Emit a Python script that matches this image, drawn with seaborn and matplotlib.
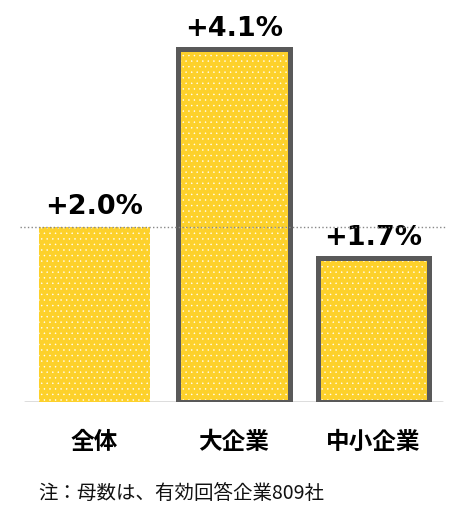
""" Bar chart: growth rate by company size.
"""
import numpy as np
import matplotlib.pyplot as plt
import seaborn as sns

# Data
categories = ['全体', '大企業', '中小企業']
values = [2.02, 4.08, 1.66]
value_labels = ['+2.0%', '+4.1%', '+1.7%']
note = '注：母数は、有効回答企業809社'

bar_color = '#FDD12B'
edge_color = '#595959'

sns.set_style('white')
plt.rcParams['font.family'] = ['Noto Sans CJK JP', 'DejaVu Sans']
plt.rcParams['hatch.linewidth'] = 0.3

fig = plt.figure(figsize=(4.77, 5.16), dpi=100)
ax = fig.add_axes([20 / 477, 1 - 402 / 516, 426 / 477, 402 / 516])

pos = np.arange(len(categories))
sns.barplot(x=pos, y=values, color=bar_color, saturation=1, width=0.8,
            hatch='...', edgecolor='white', linewidth=0, ax=ax, zorder=2)

# outline on the two breakdown bars
ax.bar(pos[1:], values[1:], width=0.8, fill=False, edgecolor=edge_color,
       linewidth=3.6, zorder=3)

# reference line at overall level and baseline
ax.axhline(values[0], color='#888888', linestyle=':', linewidth=1, zorder=4)
ax.axhline(0, xmin=5 / 426, xmax=422 / 426, color='#D9D9D9', linewidth=2,
           zorder=1)

for p, v, lab in zip(pos, values, value_labels):
    ax.annotate(lab, (p, v), xytext=(0, 5), textcoords='offset points',
                ha='center', va='bottom', fontsize=19.5, fontweight='bold',
                family='DejaVu Sans', color='black')

ax.set_xlim((20 - 94.5) / 139.5, (446 - 94.5) / 139.5)
ax.set_ylim(0, 402 / 86.5)
ax.set_xticks(pos)
ax.set_xticklabels(categories, fontsize=17, fontweight='bold', color='black')
ax.tick_params(axis='x', length=0, pad=20)
ax.set_yticks([])
ax.set_xlabel('')
ax.set_ylabel('')
sns.despine(ax=ax, left=True, bottom=True)

fig.text(38 / 477, 1 - 493 / 516, note, ha='left', va='center', fontsize=14,
         color='#111111')

fig.savefig('out.png', dpi=100)
